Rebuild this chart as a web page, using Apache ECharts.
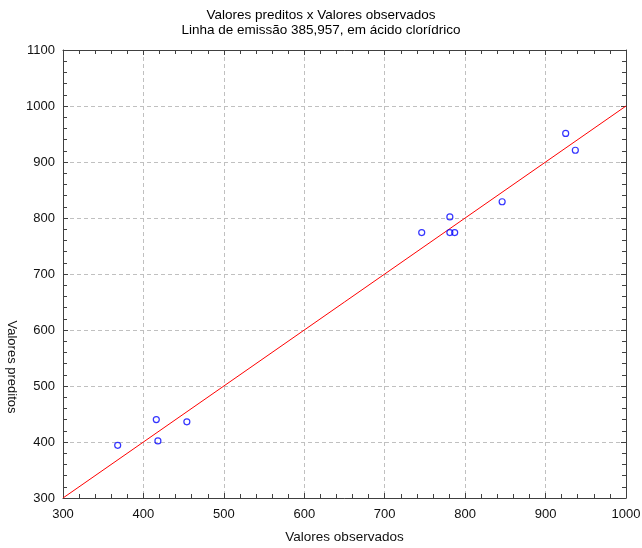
<!DOCTYPE html>
<html>
<head>
<meta charset="utf-8">
<script src="https://cdn.jsdelivr.net/npm/echarts@6/dist/echarts.min.js"></script>
<style>
  html, body { margin: 0; padding: 0; background: #fff; }
  #chart { width: 642px; height: 548px; }
</style>
</head>
<body>
<div id="chart"></div>
<script>
// Observed vs predicted values (HCl, emission line 385.957)
const observados = [368, 416, 418, 454, 746, 781, 781, 787, 846, 925, 937];
const preditos   = [394, 440, 402, 436, 774, 802, 774, 774, 829, 951, 921];
// Reference line y = x
const linhaX = [300, 1000];
const linhaY = [300, 1000];

const FONT = '"Liberation Sans", Arial, sans-serif';
const AXIS_COLOR = '#404040';

const pontos = observados.map((x, i) => [x, preditos[i]]);
const linha = linhaX.map((x, i) => [x, linhaY[i]]);

function axisBase(min, max, showLabels, margin) {
  return {
    type: 'value',
    min: min,
    max: max,
    interval: 100,
    axisLine: { show: true, onZero: false, lineStyle: { color: AXIS_COLOR, width: 1 } },
    axisTick: { show: true, inside: true, length: 5, lineStyle: { color: AXIS_COLOR } },
    minorTick: { show: true, splitNumber: 5, length: 4, lineStyle: { color: AXIS_COLOR } },
    axisLabel: {
      show: showLabels, color: '#111', fontFamily: FONT, fontSize: 13, margin: margin,
      formatter: v => String(v)
    },
    splitLine: {
      show: showLabels,
      lineStyle: { color: '#c0c0c0', type: [4, 3], width: 1 }
    },
    minorSplitLine: { show: false }
  };
}

const chart = echarts.init(document.getElementById('chart'), null, { renderer: 'canvas' });

const xBottom = Object.assign(axisBase(300, 1000, true, 10), {
  position: 'bottom',
  name: 'Valores observados',
  nameLocation: 'middle',
  nameGap: 32,
  nameTextStyle: { color: '#111', fontFamily: FONT, fontSize: 13.5 }
});
const xTop = Object.assign(axisBase(300, 1000, false, 8), { position: 'top' });
const yLeft = Object.assign(axisBase(300, 1100, true, 8), { position: 'left' });
const yRight = Object.assign(axisBase(300, 1100, false, 8), { position: 'right' });

chart.setOption({
  animation: false,
  backgroundColor: '#fff',
  title: {
    text: 'Valores preditos x Valores observados\nLinha de emissão 385,957, em ácido clorídrico',
    left: 'center',
    top: 3,
    textStyle: {
      color: '#000', fontFamily: FONT, fontSize: 13.5, fontWeight: 'normal', lineHeight: 15
    }
  },
  grid: { left: 63, right: 16, top: 50, bottom: 50, containLabel: false, outerBoundsMode: 'none' },
  xAxis: [xBottom, xTop],
  yAxis: [yLeft, yRight],
  graphic: [{
    type: 'text',
    x: 12,
    y: 367,
    rotation: -Math.PI / 2,
    style: {
      text: 'Valores preditos',
      fill: '#111',
      font: '13px ' + FONT,
      align: 'center',
      verticalAlign: 'middle'
    }
  }],
  series: [
    {
      type: 'line',
      xAxisIndex: 0,
      yAxisIndex: 0,
      data: linha,
      symbol: 'none',
      lineStyle: { color: '#ff0000', width: 1 },
      z: 2
    },
    {
      type: 'scatter',
      xAxisIndex: 0,
      yAxisIndex: 0,
      data: pontos,
      symbol: 'circle',
      symbolSize: 6,
      itemStyle: { color: 'rgba(255,255,255,0)', borderColor: '#0000ff', borderWidth: 1.2 },
      z: 3
    }
  ]
});
</script>
</body>
</html>
